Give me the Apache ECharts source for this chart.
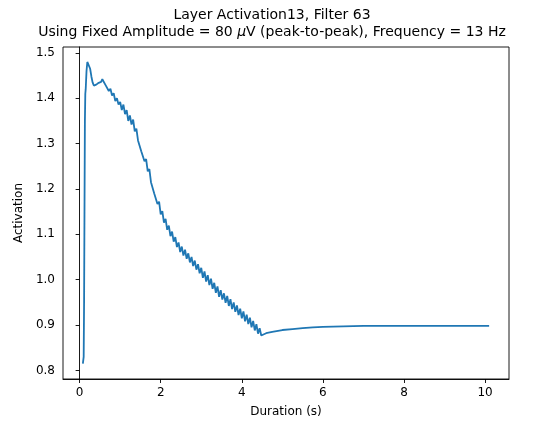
<!DOCTYPE html>
<html>
<head>
<meta charset="utf-8">
<script src="https://cdn.jsdelivr.net/npm/echarts@6/dist/echarts.min.js"></script>
<style>
  html, body { margin: 0; padding: 0; background: #fff; }
  #chart { width: 548px; height: 421px; }
</style>
</head>
<body>
<div id="chart"></div>
<script>
// Layer activation trace: [time (s), activation]
const onsetSegment = [
  [0.08, 0.815], [0.09, 0.818], [0.10, 0.830], [0.11, 0.95], [0.12, 1.15],
  [0.13, 1.35], [0.14, 1.41], [0.15, 1.42], [0.17, 1.46], [0.19, 1.48],
  [0.21, 1.481], [0.23, 1.477], [0.26, 1.465], [0.29, 1.448], [0.32, 1.435],
  [0.35, 1.428], [0.38, 1.425], [0.41, 1.430], [0.44, 1.428], [0.47, 1.434],
  [0.50, 1.437], [0.53, 1.436], [0.56, 1.442]
];

// Ripple-riding decay while the stimulus is on
const stimulusSegment = [
  [0.60, 1.445], [0.64, 1.429], [0.68, 1.433], [0.72, 1.416], [0.76, 1.421],
  [0.80, 1.406], [0.84, 1.411], [0.88, 1.394], [0.92, 1.400], [0.96, 1.386],
  [1.00, 1.392], [1.04, 1.374], [1.08, 1.386], [1.12, 1.365], [1.16, 1.374],
  [1.20, 1.350], [1.24, 1.362], [1.28, 1.342], [1.32, 1.353], [1.36, 1.327],
  [1.40, 1.333], [1.44, 1.307], [1.48, 1.311], [1.52, 1.283], [1.56, 1.287],
  [1.60, 1.261], [1.64, 1.266], [1.68, 1.239], [1.72, 1.244], [1.76, 1.215],
  [1.80, 1.218], [1.84, 1.190], [1.88, 1.194], [1.92, 1.167], [1.96, 1.172],
  [2.00, 1.144], [2.04, 1.151], [2.08, 1.126], [2.12, 1.134], [2.16, 1.110],
  [2.20, 1.119], [2.24, 1.096], [2.28, 1.106], [2.32, 1.084], [2.36, 1.094],
  [2.40, 1.072], [2.44, 1.082], [2.48, 1.061], [2.52, 1.073], [2.56, 1.053],
  [2.60, 1.066], [2.64, 1.046], [2.68, 1.058], [2.72, 1.038], [2.76, 1.050],
  [2.80, 1.030], [2.84, 1.042], [2.88, 1.022], [2.92, 1.034], [2.96, 1.014],
  [3.00, 1.026], [3.04, 1.004], [3.08, 1.018], [3.12, 0.996], [3.16, 1.010],
  [3.20, 0.988], [3.24, 1.002], [3.28, 0.980], [3.32, 0.993], [3.36, 0.971],
  [3.40, 0.985], [3.44, 0.962], [3.48, 0.977], [3.52, 0.956], [3.56, 0.970],
  [3.60, 0.949], [3.64, 0.964], [3.68, 0.942], [3.72, 0.957], [3.76, 0.935],
  [3.80, 0.950], [3.84, 0.929], [3.88, 0.943], [3.92, 0.922], [3.96, 0.936],
  [4.00, 0.915], [4.04, 0.930], [4.08, 0.908], [4.12, 0.923], [4.16, 0.902],
  [4.20, 0.916], [4.24, 0.895], [4.28, 0.909], [4.32, 0.888], [4.36, 0.902],
  [4.40, 0.881], [4.44, 0.893], [4.48, 0.877], [4.52, 0.881]
];

// Smooth recovery to the resting level
const recoverySegment = [
  [4.60, 0.882], [4.75, 0.885], [5.00, 0.889], [5.25, 0.891], [5.50, 0.893],
  [5.75, 0.895], [6.00, 0.896], [6.50, 0.897], [7.00, 0.898], [8.00, 0.898],
  [9.00, 0.898], [10.10, 0.898]
];

const xTicks = [0, 2, 4, 6, 8, 10];
const yTicks = [0.8, 0.9, 1.0, 1.1, 1.2, 1.3, 1.4, 1.5];

const trace = onsetSegment.concat(stimulusSegment, recoverySegment);

const FONT = 'DejaVu Sans';
const chart = echarts.init(document.getElementById('chart'), null, { renderer: 'canvas' });

chart.setOption({
  animation: false,
  backgroundColor: '#ffffff',
  title: {
    text: 'Layer Activation13, Filter 63\nUsing Fixed Amplitude = 80 {mu|μ}V (peak-to-peak), Frequency = 13 Hz',
    left: 267,
    top: 2,
    textAlign: 'center',
    textStyle: {
      fontFamily: FONT,
      fontSize: 14,
      fontWeight: 'normal',
      color: '#000',
      lineHeight: 17,
      rich: {
        mu: { fontFamily: FONT, fontSize: 14, fontStyle: 'italic', color: '#000', lineHeight: 17 }
      }
    }
  },
  grid: {
    left: 63,
    right: 39,
    top: 47,
    bottom: 42,
    outerBoundsMode: 'none',
    containLabel: false,
    show: true,
    borderColor: '#000',
    borderWidth: 0.9,
    backgroundColor: 'transparent'
  },
  xAxis: {
    type: 'value',
    min: -0.41,
    max: 10.59,
    name: 'Duration (s)',
    nameLocation: 'middle',
    nameGap: 27,
    nameTextStyle: { fontFamily: FONT, fontSize: 12, color: '#000' },
    axisLine: { show: true, lineStyle: { color: '#000', width: 0.9 } },
    axisTick: { show: true, inside: false, length: 4, customValues: xTicks, lineStyle: { color: '#000', width: 0.9 } },
    axisLabel: {
      customValues: xTicks,
      margin: 8,
      fontFamily: FONT,
      fontSize: 12,
      color: '#000',
      formatter: v => String(v)
    },
    splitLine: { show: false }
  },
  yAxis: {
    type: 'value',
    min: 0.781,
    max: 1.513,
    name: 'Activation',
    nameLocation: 'middle',
    nameGap: 33,
    nameRotate: 90,
    nameTextStyle: { fontFamily: FONT, fontSize: 12, color: '#000' },
    axisLine: { show: true, lineStyle: { color: '#000', width: 0.9 } },
    axisTick: { show: true, inside: false, length: 4, customValues: yTicks, lineStyle: { color: '#000', width: 0.9 } },
    axisLabel: {
      customValues: yTicks,
      margin: 8,
      fontFamily: FONT,
      fontSize: 12,
      color: '#000',
      formatter: v => v.toFixed(1)
    },
    splitLine: { show: false }
  },
  series: [{
    type: 'line',
    data: trace,
    showSymbol: false,
    symbol: 'none',
    smooth: false,
    lineStyle: { color: '#1f77b4', width: 1.8 },
    itemStyle: { color: '#1f77b4' }
  }]
});
</script>
</body>
</html>
